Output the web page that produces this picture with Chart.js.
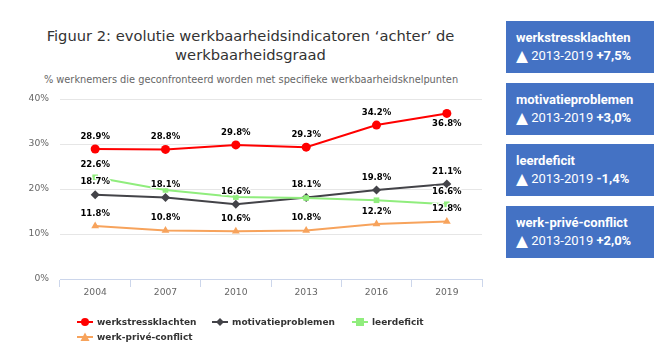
<!DOCTYPE html>
<html><head><meta charset="utf-8">
<script src="https://cdn.jsdelivr.net/npm/chart.js@4"></script>
<style>
body{margin:0;width:666px;height:357px;background:#fff;position:relative;overflow:hidden;font-family:"DejaVu Sans",sans-serif}
#wrap{position:absolute;left:0;top:0;width:490px;height:357px}
.title{position:absolute;left:0;width:501px;text-align:center;color:#333;font-size:14.7px;line-height:18.5px;top:27px;white-space:nowrap}
.sub{position:absolute;left:0;width:502px;text-align:center;color:#666;font-size:9.8px;line-height:12px;top:74px;white-space:nowrap}
.leg{position:absolute;font-weight:bold;font-size:9px;line-height:12px;color:#333;white-space:nowrap;display:flex;align-items:center}
.leg svg{margin-right:4px}
.box{position:absolute;left:506px;width:148px;height:52px;background:#4472c4;color:#fff;font-family:Roboto,sans-serif;font-size:13px}
.box .t{position:absolute;left:10px;top:9px;font-weight:bold;line-height:16px;white-space:nowrap}
.box .v{position:absolute;left:10px;top:27px;line-height:16px;white-space:nowrap}
.box .v b{font-weight:bold}
.box .tri{font-family:"DejaVu Sans";font-size:15.5px;line-height:16px;vertical-align:-1px}
</style></head><body>
<div class="title">Figuur 2: evolutie werkbaarheidsindicatoren ‘achter’ de<br>werkbaarheidsgraad</div>
<div class="sub">% werknemers die geconfronteerd worden met specifieke werkbaarheidsknelpunten</div>
<div id="wrap"><canvas id="c" width="490" height="357"></canvas></div>
<div id="legend"></div>
<div id="boxes"></div>
<script>
const categories = ['2004','2007','2010','2013','2016','2019'];
const seriesNames = ['werkstressklachten','motivatieproblemen','leerdeficit','werk-privé-conflict'];
const werkstressklachten = [28.9, 28.8, 29.8, 29.3, 34.2, 36.8];
const motivatieproblemen = [18.7, 18.1, 16.6, 18.1, 19.8, 21.1];
const leerdeficit = [22.6, 19.8, 18.2, 18.0, 17.5, 16.6];
const werkPriveConflict = [11.8, 10.8, 10.6, 10.8, 12.2, 12.8];
const yTicks = [0, 10, 20, 30, 40];
const changeLabels = ['+7,5%', '+3,0%', '-1,4%', '+2,0%'];
const changePeriod = '2013-2019';

const colors = ['#ff0000', '#434348', '#90ed7d', '#f7a35c'];
const styles = ['circle', 'rectRot', 'rect', 'triangle'];
const radii = [4.5, 4.5, 4, 4.5];
const allData = [werkstressklachten, motivatieproblemen, leerdeficit, werkPriveConflict];

const labelPlugin = {
  id: 'dlabels',
  afterDatasetsDraw(chart) {
    const ctx = chart.ctx, area = chart.chartArea;
    ctx.save();
    ctx.font = 'bold 8.5px "DejaVu Sans"';
    ctx.textAlign = 'center';
    ctx.textBaseline = 'middle';
    ctx.lineJoin = 'round';
    const placed = [];
    chart.data.datasets.forEach((ds, i) => {
      const meta = chart.getDatasetMeta(i);
      meta.data.forEach((pt, j) => {
        const text = ds.data[j].toFixed(1) + '%';
        const h = 12;
        let cy = pt.y - 12.6;
        if (cy - h / 2 < area.top) cy = pt.y + 10.7;
        const w = ctx.measureText(text).width + 4;
        const b = {x1: pt.x - w / 2, x2: pt.x + w / 2, y1: cy - h / 2, y2: cy + h / 2};
        const hit = placed.some(p => b.x1 < p.x2 && b.x2 > p.x1 && b.y1 < p.y2 && b.y2 > p.y1);
        if (hit) return;
        placed.push(b);
        ctx.strokeStyle = '#ffffff';
        ctx.lineWidth = 2.5;
        ctx.strokeText(text, pt.x, cy);
        ctx.fillStyle = '#000000';
        ctx.fillText(text, pt.x, cy);
      });
    });
    ctx.restore();
  }
};

new Chart(document.getElementById('c'), {
  type: 'line',
  data: {
    labels: categories,
    datasets: allData.map((d, i) => ({
      label: seriesNames[i],
      data: d,
      borderColor: colors[i],
      backgroundColor: colors[i],
      borderWidth: 2,
      pointStyle: styles[i],
      pointRadius: radii[i],
      pointHoverRadius: radii[i],
      pointBorderWidth: 0,
      tension: 0,
      order: 4 - i
    }))
  },
  options: {
    responsive: false,
    devicePixelRatio: 1,
    animation: false,
    layout: {padding: {top: 99, left: 0, right: 8, bottom: 0}},
    plugins: {legend: {display: false}, tooltip: {enabled: false}, title: {display: false}},
    scales: {
      x: {
        offset: true,
        grid: {offset: true, drawOnChartArea: false, color: '#ccd6eb', tickLength: 8, lineWidth: 1},
        border: {color: '#ccd6eb', width: 1},
        ticks: {color: '#666', font: {family: 'DejaVu Sans', size: 9.2}, padding: 0, maxRotation: 0},
        afterFit(s) { s.height = 78; }
      },
      y: {
        min: 0, max: 40,
        afterBuildTicks(s) { s.ticks = yTicks.map(v => ({value: v})); },
        grid: {color: '#e6e6e6', drawTicks: false, lineWidth: 1},
        border: {display: false},
        ticks: {color: '#666', font: {family: 'DejaVu Sans', size: 9.2}, padding: 11, callback: v => v + '%'},
        afterFit(s) { s.width = 60; }
      }
    }
  },
  plugins: [labelPlugin]
});

// legend
function symbolSvg(i) {
  const c = colors[i];
  let m = '';
  if (i === 0) m = `<circle cx="8" cy="6" r="4" fill="${c}"/>`;
  if (i === 1) m = `<polygon points="8,2 12,6 8,10 4,6" fill="${c}"/>`;
  if (i === 2) m = `<rect x="4" y="2" width="8" height="8" fill="${c}"/>`;
  if (i === 3) m = `<polygon points="8,1.5 12.5,10 3.5,10" fill="${c}"/>`;
  return `<svg width="16" height="12"><line x1="0" y1="6" x2="16" y2="6" stroke="${c}" stroke-width="2"/>${m}</svg>`;
}
const legPos = [[77, 316], [212, 316], [352, 316], [77, 331]];
const legEl = document.getElementById('legend');
seriesNames.forEach((n, i) => {
  const d = document.createElement('div');
  d.className = 'leg';
  d.style.left = legPos[i][0] + 'px';
  d.style.top = legPos[i][1] + 'px';
  d.innerHTML = symbolSvg(i) + '<span>' + n + '</span>';
  legEl.appendChild(d);
});

// boxes
const boxTops = [21, 83, 144, 206];
const boxEl = document.getElementById('boxes');
seriesNames.forEach((n, i) => {
  const d = document.createElement('div');
  d.className = 'box';
  d.style.top = boxTops[i] + 'px';
  d.innerHTML = `<div class="t">${n}</div><div class="v"><span class="tri">▲</span> ${changePeriod} <b>${changeLabels[i]}</b></div>`;
  boxEl.appendChild(d);
});
</script>
</body></html>
